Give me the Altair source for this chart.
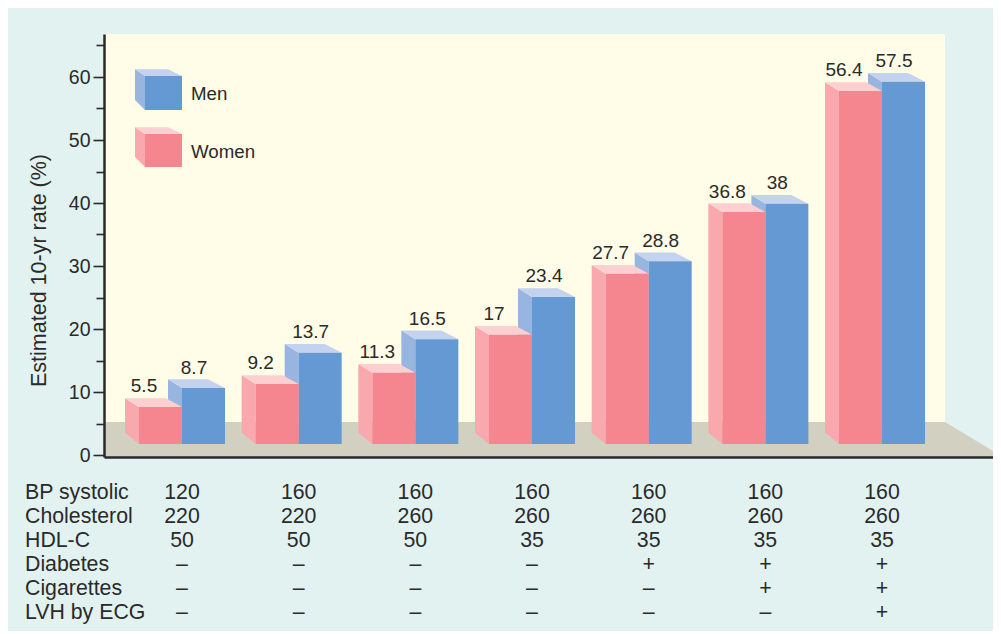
import altair as alt
import pandas as pd

# ---- values ----
women = ["5.5", "9.2", "11.3", "17", "27.7", "36.8", "56.4"]
men = ["8.7", "13.7", "16.5", "23.4", "28.8", "38", "57.5"]
# height of the drawn front faces, on the axis scale
women_top = [7.62, 11.27, 13.06, 19.1, 28.78, 38.57, 57.78]
men_top = [10.63, 16.24, 18.37, 25.08, 30.75, 39.89, 59.25]
row_labels = ["BP systolic", "Cholesterol", "HDL-C", "Diabetes", "Cigarettes", "LVH by ECG"]
rows = [
    ["120", "160", "160", "160", "160", "160", "160"],
    ["220", "220", "260", "260", "260", "260", "260"],
    ["50", "50", "50", "35", "35", "35", "35"],
    ["–", "–", "–", "–", "+", "+", "+"],
    ["–", "–", "–", "–", "–", "+", "+"],
    ["–", "–", "–", "–", "–", "–", "+"],
]
y_title = "Estimated 10-yr rate (%)"
all_ticks = [0, 5, 10, 15, 20, 25, 30, 35, 40, 45, 50, 55, 60, 65]

# ---- colours ----
TEAL, CREAM, FLOOR, INK = "#E2F2F1", "#FFFCE8", "#D2D0C0", "#2A2A2A"
RED = {"front": "#F5858E", "side": "#F9A9AD", "top": "#FCCFD0"}
BLUE = {"front": "#6499D3", "side": "#98B5E0", "top": "#C3D2EE"}
FONT = "Liberation Sans"

# ---- scales: the x unit is one group of bars, the y unit is the axis value ----
GROUP_PX, VALUE_PX = 116.67, 6.3
X0_PX, Y0_PX = 182.0, 455.0  # where group 0 and value 0 fall on the page
def xu(px):
    return (px - X0_PX) / GROUP_PX
def yu(px):
    return (Y0_PX - px) / VALUE_PX

LEFT, RIGHT, TOP, BOTTOM = 104, 993, 34, 457
x_scale = alt.Scale(domain=[xu(LEFT), xu(RIGHT)], nice=False, zero=False)
y_scale = alt.Scale(domain=[yu(BOTTOM), yu(TOP)], nice=False, zero=False)
x_axis = alt.Axis(labels=False, ticks=False, title=None, grid=False, domain=True,
                  domainColor=INK, domainWidth=2.5, zindex=1)
y_axis = alt.Axis(values=all_ticks, grid=False, domainColor=INK, domainWidth=2.5, zindex=1,
                  tickColor=INK, tickWidth=1.6,
                  tickSize={"condition": {"test": "datum.value % 10 === 0", "value": 11}, "value": 8},
                  labelExpr="datum.value % 10 === 0 ? datum.label : ''",
                  labelFont=FONT, labelFontSize=19.5, labelColor=INK, labelPadding=3,
                  title=y_title, titleFont=FONT, titleFontSize=21.5, titleColor=INK,
                  titleFontWeight="normal", titleX=-54, titleY=236, titleAlign="center",
                  titleAngle=270)

def X(f):
    return alt.X(f + ":Q", scale=x_scale, axis=x_axis)
def Y(f):
    return alt.Y(f + ":Q", scale=y_scale, axis=y_axis)

# ---- bars as three faces ----
def faces(name, x0_px, x1_px, top_px, base_px, dx, dy, dbase, dback):
    side = [
        dict(id=name, x=xu(x0_px - dx), y=yu(top_px - dy), y2=yu(base_px - dbase)),
        dict(id=name, x=xu(x0_px), y=yu(top_px), y2=yu(base_px)),
    ]
    top = [
        dict(id=name, y=yu(top_px), x=xu(x0_px), x2=xu(x1_px)),
        dict(id=name, y=yu(top_px - dy), x=xu(x0_px - dx), x2=xu(x1_px - dback)),
    ]
    front = [dict(id=name, x=xu(x0_px), x2=xu(x1_px), y=yu(top_px), y2=yu(base_px))]
    return side, top, front

def value_px(v):
    return Y0_PX - v * VALUE_PX

def collect(parts):
    side, top, front = [], [], []
    for a, b, c in parts:
        side += a; top += b; front += c
    return pd.DataFrame(side), pd.DataFrame(top), pd.DataFrame(front)

BAR_W, BASE = 43, 444
men_parts = [faces(f"m{i}", X0_PX + i * GROUP_PX, X0_PX + i * GROUP_PX + BAR_W,
                   value_px(t), BASE, 14, 8.7, 11.3, 17) for i, t in enumerate(men_top)]
women_parts = [faces(f"w{i}", X0_PX + i * GROUP_PX - BAR_W, X0_PX + i * GROUP_PX,
                     value_px(t), BASE, 14, 8.7, 11.3, 16) for i, t in enumerate(women_top)]
# legend swatches
men_parts.append(faces("lm", 145, 182, 76, 110, 10, 6.7, 10, 14))
women_parts.append(faces("lw", 145, 182, 134, 167, 10, 6.7, 10, 14))

def bar_layers(parts, col):
    side, top, front = collect(parts)
    return [
        alt.Chart(side).mark_area(color=col["side"], orient="vertical", interpolate="linear").encode(
            x=X("x"), y=Y("y"), y2="y2:Q", detail="id:N"),
        alt.Chart(top).mark_area(color=col["top"], orient="horizontal", interpolate="linear").encode(
            y=Y("y"), x=X("x"), x2="x2:Q", detail="id:N"),
        alt.Chart(front).mark_rect(color=col["front"]).encode(
            x=X("x"), x2="x2:Q", y=Y("y"), y2="y2:Q"),
    ]

# ---- backdrop ----
wall = alt.Chart(pd.DataFrame([dict(x=xu(105), x2=xu(945), y=yu(TOP), y2=yu(423))])).mark_rect(color=CREAM).encode(
    x=X("x"), x2="x2:Q", y=Y("y"), y2="y2:Q")
floor = alt.Chart(pd.DataFrame([
    dict(y=yu(422), x=xu(105), x2=xu(945)),
    dict(y=yu(BOTTOM), x=xu(105), x2=xu(1003)),
])).mark_area(color=FLOOR, orient="horizontal", interpolate="linear").encode(
    y=Y("y"), x=X("x"), x2="x2:Q")

# ---- texts ----
def text_layer(df, align="center", size=19):
    return alt.Chart(df).mark_text(font=FONT, fontSize=size, color=INK, align=align, baseline="middle").encode(
        x=X("x"), y=Y("y"), text="t:N")

bar_labels = pd.DataFrame(
    [dict(x=i + xu(X0_PX - 38), y=yu(value_px(t) - 20.5), t=s)
     for i, (s, t) in enumerate(zip(women, women_top))] +
    [dict(x=i + xu(X0_PX + 12), y=yu(value_px(t) - 20.5), t=s)
     for i, (s, t) in enumerate(zip(men, men_top))])
legend_labels = pd.DataFrame([dict(x=xu(191), y=yu(94), t="Men"), dict(x=xu(191), y=yu(152), t="Women")])
ROW0, ROW_STEP = 493, 24
row_names = pd.DataFrame([dict(x=xu(25), y=yu(ROW0 + r * ROW_STEP), t=s) for r, s in enumerate(row_labels)])
row_cells = pd.DataFrame([dict(x=i, y=yu(ROW0 + r * ROW_STEP), t=s)
                          for r, row in enumerate(rows) for i, s in enumerate(row)])

chart = alt.layer(
    wall, floor,
    *bar_layers(men_parts, BLUE),
    *bar_layers(women_parts, RED),
    text_layer(bar_labels),
    text_layer(legend_labels, align="left", size=18.7),
    text_layer(row_names, align="left", size=21.3),
    text_layer(row_cells, size=21.3),
).properties(
    width=RIGHT - LEFT,
    height=BOTTOM - TOP,
    background=TEAL,
    autosize=alt.AutoSizeParams(type="none"),
    padding={"left": LEFT - 8, "top": TOP - 8, "right": 0, "bottom": 631 - BOTTOM},
).configure_view(stroke=None)

chart.save("out.html", embed_options={"renderer": "svg", "actions": False})
